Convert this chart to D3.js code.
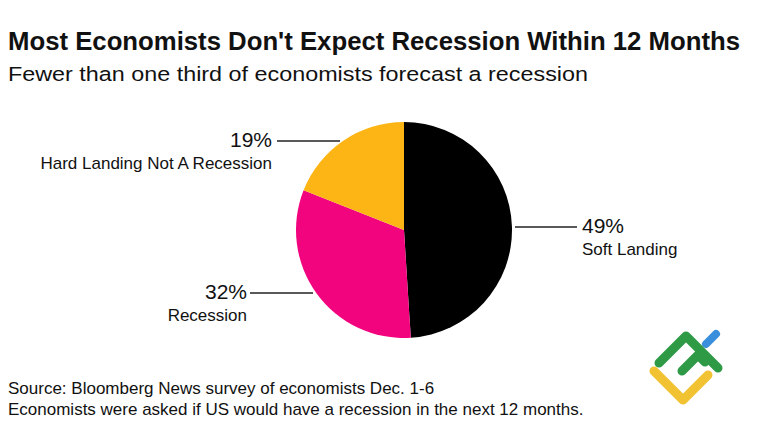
<!DOCTYPE html>
<html>
<head>
<meta charset="utf-8">
<script src="https://cdn.jsdelivr.net/npm/d3@7"></script>
<style>
  body { margin: 0; background: #fff; }
  text { font-family: "Liberation Sans", Arial, sans-serif; fill: #111; }
</style>
</head>
<body>
<svg id="chart" width="758" height="426"></svg>
<script>
// data
var categories = ["Soft Landing", "Recession", "Hard Landing Not A Recession"];
var shares = [49, 32, 19];
var colors = ["#000000", "#f2047f", "#fdb515"];

var svg = d3.select("#chart");
var cx = 404, cy = 230, r = 108;

// title block
svg.append("text").attr("x", 8).attr("y", 50)
  .attr("font-size", 25).attr("font-weight", "bold")
  .attr("textLength", 732).attr("lengthAdjust", "spacingAndGlyphs")
  .text("Most Economists Don't Expect Recession Within 12 Months");
svg.append("text").attr("x", 8).attr("y", 81)
  .attr("font-size", 20.5)
  .attr("textLength", 580).attr("lengthAdjust", "spacingAndGlyphs")
  .text("Fewer than one third of economists forecast a recession");

var pie = d3.pie().sort(null).value(function(d) { return d; });
var arcs = pie(shares);
var arc = d3.arc().innerRadius(0).outerRadius(r);

var g = svg.append("g").attr("transform", "translate(" + cx + "," + cy + ")");
g.selectAll("path").data(arcs).enter().append("path")
  .attr("d", arc)
  .attr("fill", function(d, i) { return colors[i]; });

// leader lines + labels
var labelPos = [
  {side: "start", y: -3, x0: 111, x1: 173, gap: 5},
  {side: "end", y: 63, x0: -91, x1: -154, gap: 3},
  {side: "end", y: -89, x0: -64, x1: -127, gap: 5}
];

arcs.forEach(function(d, i) {
  var p = labelPos[i];
  g.append("line")
    .attr("x1", p.x0).attr("x2", p.x1)
    .attr("y1", p.y).attr("y2", p.y)
    .attr("stroke", "#222").attr("stroke-width", 1.3);
  var tx = p.side === "start" ? p.x1 + p.gap : p.x1 - p.gap;
  g.append("text").attr("x", tx).attr("y", p.y + 6)
    .attr("text-anchor", p.side).attr("font-size", 21)
    .text(shares[i] + "%");
  g.append("text").attr("x", tx).attr("y", p.y + 28)
    .attr("text-anchor", p.side).attr("font-size", 17)
    .text(categories[i]);
});

// footer
svg.append("text").attr("x", 8).attr("y", 394).attr("font-size", 17)
  .text("Source: Bloomberg News survey of economists Dec. 1-6");
svg.append("text").attr("x", 8).attr("y", 415).attr("font-size", 17)
  .text("Economists were asked if US would have a recession in the next 12 months.");

// logo watermark
var logo = svg.append("g").attr("fill", "none")
  .attr("stroke-linecap", "round").attr("stroke-linejoin", "round");
logo.append("path").attr("d", "M706,344 L716,334")
  .attr("stroke", "#3a8fdc").attr("stroke-width", 8);
logo.append("path").attr("d", "M659,363 L686,336 L718,368")
  .attr("stroke", "#2f9a45").attr("stroke-width", 9);
logo.append("path").attr("d", "M682,371 L698,355 L705,362")
  .attr("stroke", "#2f9a45").attr("stroke-width", 9);
logo.append("path").attr("d", "M654,371 L683,400 L708,375")
  .attr("stroke", "#f1c232").attr("stroke-width", 9);
</script>
</body>
</html>
